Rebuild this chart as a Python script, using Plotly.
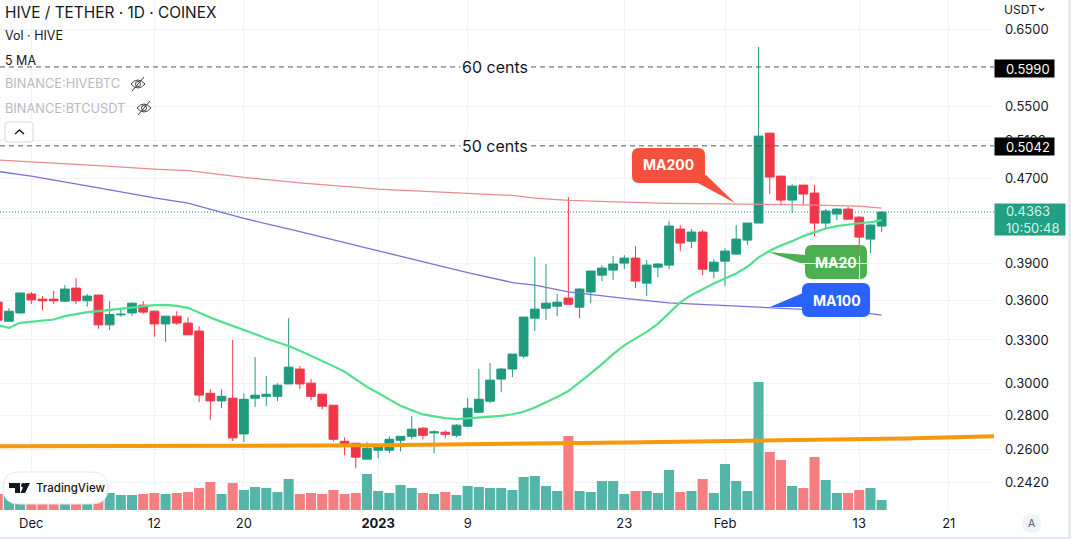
import pandas as pd
import plotly.graph_objects as go

# daily candles 28 Nov 2022 - 15 Feb 2023, rows are Nov / Dec / Jan / Feb
dates = pd.date_range("2022-11-28", "2023-02-15")

opens = [
    .3584, .3438, .3501,
    .3648, .3608, .3608, .3592, .3696, .3595, .3640, .3411, .3486, .3501, .3561,
    .3514, .3418, .3476, .3424, .3365, .2937, .2889, .2906, .2688, .2906, .2918,
    .2918, .2998, .3097, .3003, .2931, .2862, .2645, .2634, .2544,
    .2594, .2594, .2651, .2674, .2722, .2694, .2698, .2680, .2734, .2818, .2887,
    .3030, .3097, .3186, .3461, .3537, .3553, .3616, .3545, .3664, .3802, .3844,
    .3903, .3946, .3736, .3869, .3886, .4204, .4095, .4177, .3835,
    .3920, .3981, .4104, .4260, .5184, .4720, .4479, .4628, .4548, .4260, .4344,
    .4392, .4315, .4113, .4232,
]
highs = [
    .3600, .3537, .3664,
    .3664, .3632, .3672, .3720, .3777, .3648, .3640, .3592, .3537, .3584, .3592,
    .3522, .3476, .3514, .3469, .3401, .2964, .2964, .3299, .2937, .3179, .3050,
    .3003, .3461, .3117, .3030, .2937, .2862, .2668, .2634, .2640,
    .2622, .2674, .2674, .2794, .2728, .2710, .2710, .2746, .2906, .3097, .3138,
    .3104, .3200, .3469, .3955, .3895, .3648, .4508, .3696, .3836, .3886, .3964,
    .3972, .4051, .3929, .3903, .4278, .4241, .4204, .4195, .3937,
    .4033, .4241, .4260, .6256, .5184, .4720, .4638, .4628, .4628, .4392, .4401,
    .4411, .4325, .4250, .4373,
]
lows = [
    .3431, .3438, .3494,
    .3570, .3524, .3570, .3587, .3570, .3548, .3382, .3374, .3471, .3478, .3494,
    .3323, .3287, .3411, .3338, .2882, .2772, .2845, .2647, .2641, .2851, .2857,
    .2887, .2998, .2964, .2893, .2837, .2645, .2566, .2494, .2544,
    .2549, .2577, .2588, .2657, .2657, .2577, .2663, .2668, .2728, .2818, .2875,
    .2944, .3043, .3172, .3365, .3446, .3476, .3568, .3461, .3576, .3753, .3761,
    .3852, .3696, .3632, .3786, .3852, .4007, .4033, .3802, .3777,
    .3712, .3973, .4060, .4260, .4538, .4430, .4354, .4430, .4140, .4213, .4287,
    .4296, .3964, .3990, .4177,
]
closes = [
    .3446, .3514, .3656,
    .3602, .3595, .3595, .3688, .3595, .3632, .3411, .3489, .3491, .3576, .3507,
    .3418, .3476, .3424, .3338, .2926, .2889, .2918, .2665, .2899, .2925, .2931,
    .2990, .3110, .2998, .2918, .2856, .2657, .2622, .2555, .2605,
    .2617, .2657, .2674, .2716, .2680, .2700, .2686, .2740, .2843, .2899, .3023,
    .3097, .3200, .3469, .3530, .3576, .3584, .3568, .3688, .3836, .3861, .3895,
    .3946, .3753, .3886, .3895, .4232, .4078, .4177, .3852, .3911,
    .4007, .4113, .4260, .5150, .4710, .4479, .4618, .4538, .4260, .4373, .4392,
    .4296, .4131, .4241, .4363,
]
volumes = [
    16, 16, 17,
    17, 15, 15, 18, 16, 18, 17, 17, 15, 15, 16, 17, 16, 17, 18, 22, 28, 16, 27,
    20, 23, 22, 18, 31, 16, 17, 16, 20, 16, 17, 36,
    19, 17, 25, 22, 17, 16, 18, 15, 24, 23, 22, 22, 20, 33, 34, 24, 19, 74, 19,
    18, 29, 29, 16, 19, 19, 17, 40, 18, 19, 31, 17,
    46, 29, 19, 128, 58, 50, 24, 22, 53, 30, 17, 17, 20, 22, 10,
]
ma20 = [
    .3409, .3389, .3426,
    .3433, .3441, .3451, .3476, .3494, .3507, .3514, .3524, .3532, .3540, .3551,
    .3561, .3563, .3555, .3540, .3501, .3466, .3433, .3404, .3377, .3343, .3311,
    .3285, .3257, .3223, .3188, .3149, .3117, .3079, .3028, .2979,
    .2939, .2897, .2858, .2831, .2805, .2793, .2782, .2776, .2780, .2784, .2788,
    .2796, .2806, .2821, .2848, .2879, .2914, .2952, .3008, .3068, .3131, .3200,
    .3261, .3311, .3359, .3418, .3497, .3582, .3640, .3688, .3734,
    .3775, .3816, .3872, .3952, .4010, .4057, .4095, .4140, .4174, .4210, .4232,
    .4248, .4258, .4267, .4287,
]

# slow averages read at a handful of days
ma_dates = [
    "2022-11-28", "2022-12-01", "2022-12-07", "2022-12-12", "2022-12-15",
    "2022-12-20", "2022-12-25", "2023-01-01", "2023-01-09", "2023-01-13",
    "2023-01-15", "2023-01-18", "2023-01-23", "2023-01-27", "2023-02-01",
    "2023-02-04", "2023-02-08", "2023-02-13", "2023-02-15",
]
ma200 = [
    .4888, .4870, .4829, .4793, .4776, .4706, .4651, .4588, .4545, .4525,
    .4499, .4476, .4459, .4447, .4442, .4440, .4433, .4420, .4401,
]
ma100 = [
    .4768, .4720, .4601, .4501, .4450, .4303, .4181, .4007, .3822, .3741,
    .3720, .3666, .3614, .3579, .3557, .3545, .3530, .3507, .3484,
]

x_start = "2022-11-28 04:50"
x_end = "2023-02-25 01:00"

trend_dates = ["2022-11-28", "2023-01-01", "2023-01-23", "2023-02-04",
               "2023-02-17", x_end]
trend_values = [.2616, .2622, .2638, .2647, .2662, .2674]

level_60 = .5990
level_50 = .5042
last_price = .4363

price_ticks = [.65, .55, .51, .47, .43, .39, .36, .33, .30, .28, .26, .242]
# 0.4300 sits fully behind the last price box
price_labels = ["" if t == .43 else f"{t:.4f}" for t in price_ticks]
date_ticks = ["2022-12-01", "2022-12-12", "2022-12-20", "2023-01-01",
              "2023-01-09", "2023-01-23", "2023-02-01", "2023-02-13",
              "2023-02-21"]
date_labels = ["Dec", "12", "20", "<b>2023</b>", "9", "23", "Feb", "13", "21"]

UP = "#1f9a7f"
DOWN = "#f23649"
INK = "#131722"
GRID = "#f0f3f7"
FONT = "Inter"

PLOT_W = 994
PLOT_H = 510
NBSP = "&nbsp;"


def px(x):
    return x / PLOT_W


def py(y):
    return 1 - y / PLOT_H


def rounded_path(x0, y0, x1, y1, r):
    """SVG path of a rounded box, given in page pixels."""
    pts = [
        f"M{px(x0 + r)},{py(y0)}", f"L{px(x1 - r)},{py(y0)}",
        f"Q{px(x1)},{py(y0)} {px(x1)},{py(y0 + r)}", f"L{px(x1)},{py(y1 - r)}",
        f"Q{px(x1)},{py(y1)} {px(x1 - r)},{py(y1)}", f"L{px(x0 + r)},{py(y1)}",
        f"Q{px(x0)},{py(y1)} {px(x0)},{py(y1 - r)}", f"L{px(x0)},{py(y0 + r)}",
        f"Q{px(x0)},{py(y0)} {px(x0 + r)},{py(y0)}", "Z",
    ]
    return " ".join(pts)


def poly_path(points):
    head = "M" + " L".join(f"{px(x)},{py(y)}" for x, y in points)
    return head + " Z"


def page_shape(path, fill=None, line=None, width=1, layer="above"):
    return dict(
        type="path", xref="paper", yref="paper", path=path, layer=layer,
        fillcolor=fill or "rgba(0,0,0,0)",
        line=dict(color=line or "rgba(0,0,0,0)", width=width if line else 0),
    )


def label(x, y, text, size=13, color=INK, anchor="left", weight="normal", **kwargs):
    return dict(
        xref="paper", yref="paper", x=px(x), y=py(y), text=text,
        showarrow=False, xanchor=anchor, yanchor="middle",
        font=dict(family=FONT, size=size, color=color, weight=weight), **kwargs,
    )


def eye_icon(cx, cy):
    almond = (f"M{px(cx - 7)},{py(cy)} Q{px(cx)},{py(cy - 8)} {px(cx + 7)},{py(cy)}"
              f" Q{px(cx)},{py(cy + 8)} {px(cx - 7)},{py(cy)} Z")
    pupil = (f"M{px(cx - 2.5)},{py(cy)} Q{px(cx - 2.5)},{py(cy - 2.5)} {px(cx)},{py(cy - 2.5)}"
             f" Q{px(cx + 2.5)},{py(cy - 2.5)} {px(cx + 2.5)},{py(cy)}"
             f" Q{px(cx + 2.5)},{py(cy + 2.5)} {px(cx)},{py(cy + 2.5)}"
             f" Q{px(cx - 2.5)},{py(cy + 2.5)} {px(cx - 2.5)},{py(cy)} Z")
    slash = f"M{px(cx - 6)},{py(cy + 7)} L{px(cx + 6)},{py(cy - 7)}"
    return [page_shape(p, line="#3a3e48", width=1) for p in (almond, pupil, slash)]


fig = go.Figure()

fig.add_trace(go.Bar(
    x=dates, y=volumes, yaxis="y",
    width=0.9 * 86400000,
    marker=dict(
        color=["#53b6a8" if c >= o else "#f57e81" for o, c in zip(opens, closes)],
        line=dict(width=0),
    ),
))
fig.add_trace(go.Scatter(
    x=trend_dates, y=trend_values, yaxis="y2", mode="lines",
    line=dict(color="#f6990f", width=4),
))
fig.add_trace(go.Scatter(
    x=ma_dates, y=ma200, yaxis="y2", mode="lines",
    line=dict(color="#ea8b8f", width=1.3),
))
fig.add_trace(go.Scatter(
    x=ma_dates, y=ma100, yaxis="y2", mode="lines",
    line=dict(color="#7c70d8", width=1.3),
))
fig.add_trace(go.Scatter(
    x=dates, y=ma20, yaxis="y2", mode="lines",
    line=dict(color="#50e08e", width=2.2),
))
fig.add_trace(go.Candlestick(
    x=dates, open=opens, high=highs, low=lows, close=closes, yaxis="y2",
    increasing=dict(line=dict(color=UP, width=1), fillcolor=UP),
    decreasing=dict(line=dict(color=DOWN, width=1), fillcolor=DOWN),
    whiskerwidth=0,
))
for level in (level_60, level_50):
    fig.add_trace(go.Scatter(
        x=[x_start, x_end], y=[level, level], yaxis="y2", mode="lines",
        line=dict(color="#555555", width=1, dash="5px,4px"),
    ))
fig.add_trace(go.Scatter(
    x=[x_start, x_end], y=[last_price, last_price], yaxis="y2", mode="lines",
    line=dict(color=UP, width=1, dash="1px,2px"),
))

shapes = [
    # MA callouts
    page_shape(rounded_path(805, 245, 867, 279, 7), fill="#4caf50", layer="below"),
    page_shape(poly_path([(768, 252), (806, 255), (806, 265)]), fill="#4caf50", layer="below"),
    page_shape(rounded_path(632, 148, 705, 183, 7), fill="#f4503b"),
    page_shape(poly_path([(706, 175), (735, 203), (698, 183)]), fill="#f4503b"),
    page_shape(rounded_path(802, 283, 870, 317, 7), fill="#2962ff"),
    page_shape(poly_path([(770, 307), (803, 293), (803, 307)]), fill="#2962ff"),
    # collapse button
    page_shape(rounded_path(5, 122, 33, 142, 3), fill="white", line="#d6d8de"),
    page_shape(f"M{px(15)},{py(134)} L{px(19.5)},{py(130)} L{px(24)},{py(134)}",
               line=INK, width=1.4),
    # TradingView badge
    page_shape(rounded_path(3, 472, 108, 504, 16), fill="white", line="#e6e8ee"),
    page_shape(poly_path([(9, 483), (20, 483), (20, 493), (15, 493), (15, 488), (9, 488)]),
               fill=INK),
    page_shape(rounded_path(21, 483, 25.5, 487.5, 2.2), fill=INK),
    page_shape(poly_path([(25, 483), (30, 483), (25, 493), (20.5, 493)]), fill=INK),
    # axis unit chevron
    page_shape(f"M{px(1039)},{py(8)} L{px(1041.5)},{py(10.5)} L{px(1044)},{py(8)}",
               line=INK, width=1.2),
    # auto scale button
    page_shape(rounded_path(1022, 514, 1041, 533, 9.5), fill="#f0f3fa"),
    # window edges
    page_shape(poly_path([(1068, 0), (1071, 0), (1071, 539), (1068, 539)]), fill="#e6e9f0"),
    page_shape(poly_path([(0, 537), (1071, 537), (1071, 539), (0, 539)]), fill="#e6e9f0"),
]
shapes += eye_icon(138, 84) + eye_icon(144, 108)

annotations = [
    label(3, 12, "HIVE / TETHER · 1D · COINEX", size=15.4),
    label(3, 36, "Vol · HIVE", size=12.5),
    label(3, 60, "5 MA", size=12.5),
    label(3, 84, "BINANCE:HIVEBTC", size=12.8, color="#b7bac2"),
    label(3, 108, "BINANCE:BTCUSDT", size=12.8, color="#b7bac2"),
    label(495, 67.5, "60 cents", size=16, anchor="center", bgcolor="white", borderpad=1),
    label(495, 146, "50 cents", size=16, anchor="center", bgcolor="white", borderpad=1),
    label(668, 165, "MA200", size=14, color="white", anchor="center", weight="bold"),
    label(836, 262, "MA20", size=14, color="white", anchor="center", weight="bold"),
    label(837, 300, "MA100", size=14, color="white", anchor="center", weight="bold"),
    label(34, 488, "TradingView", size=11.5, weight=500),
    label(1002, 9, "USDT", size=12),
    label(1031.5, 523.5, "A", size=10.5, color="#50535e", anchor="center"),
    label(994, 68.5, NBSP * 3 + "0.5990", size=13, color="white", bgcolor="black",
          width=59, height=17, align="left", borderpad=0),
    label(994, 146.5, NBSP * 3 + "0.5042", size=13, color="white", bgcolor="black",
          width=59, height=17, align="left", borderpad=0),
    label(994, 219.5, NBSP * 3 + "0.4363<br>" + NBSP * 3 + "10:50:48", size=13,
          color="#d8f2ea", bgcolor="#22a083", width=70, height=31, align="left",
          borderpad=0),
]

fig.update_layout(
    width=1071,
    height=539,
    margin=dict(l=0, r=77, t=0, b=29),
    paper_bgcolor="white",
    plot_bgcolor="white",
    showlegend=False,
    hovermode=False,
    dragmode=False,
    boxgap=0.22,
    boxgroupgap=0,
    font=dict(family=FONT, size=13, color=INK),
    xaxis=dict(
        type="date",
        range=[x_start, x_end],
        rangeslider=dict(visible=False),
        tickmode="array",
        tickvals=date_ticks,
        ticktext=date_labels,
        gridcolor=GRID,
        gridwidth=1,
        showline=False,
        ticks="",
        ticklabelstandoff=4,
        fixedrange=True,
    ),
    yaxis=dict(
        range=[0, PLOT_H],
        visible=False,
        fixedrange=True,
    ),
    yaxis2=dict(
        type="log",
        overlaying="y",
        side="right",
        range=[-0.6427, -0.1591],
        tickmode="array",
        tickvals=price_ticks,
        ticktext=price_labels,
        gridcolor=GRID,
        gridwidth=1,
        showline=False,
        ticks="",
        ticklabelstandoff=10,
        fixedrange=True,
    ),
    shapes=shapes,
    annotations=annotations,
)

# page margin would push the figure 8px off the window
fig.write_html(
    "out.html",
    config=dict(displayModeBar=False),
    post_script="document.body.style.margin = '0';",
)
